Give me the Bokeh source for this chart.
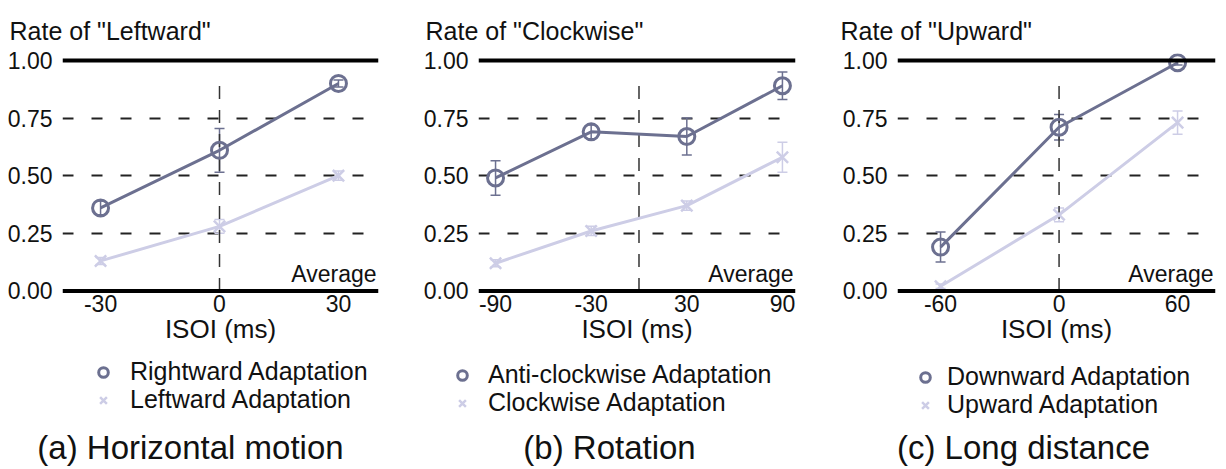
from bokeh.plotting import figure
from bokeh.layouts import row, column
from bokeh.models import (ColumnDataSource, Whisker, Span, Label, Legend, LegendItem,
                          FixedTicker, NumeralTickFormatter, TeeHead, Title)
from bokeh.embed import file_html
from bokeh.resources import INLINE

# ---- data ----
a_isoi = [-30, 0, 30]
a_rightward = [0.36, 0.61, 0.90]
a_rightward_err = [0.03, 0.095, 0.015]
a_leftward = [0.13, 0.28, 0.50]
a_leftward_err = [0.015, 0.03, 0.02]

b_isoi = [-90, -30, 30, 90]
b_anticw = [0.49, 0.69, 0.67, 0.89]
b_anticw_err = [0.075, 0.03, 0.08, 0.06]
b_cw = [0.12, 0.26, 0.37, 0.58]
b_cw_err = [0.015, 0.02, 0.02, 0.065]

c_isoi = [-60, 0, 60]
c_downward = [0.19, 0.71, 0.99]
c_downward_err = [0.065, 0.055, 0.01]
c_upward = [0.02, 0.33, 0.73]
c_upward_err = [0.01, 0.03, 0.05]

y_ticks = [0.0, 0.25, 0.5, 0.75, 1.0]

legend_names = [("Rightward Adaptation", "Leftward Adaptation"),
                ("Anti-clockwise Adaptation", "Clockwise Adaptation"),
                ("Downward Adaptation", "Upward Adaptation")]
captions = ["(a) Horizontal motion", "(b) Rotation", "(c) Long distance"]

DARK = "#6c7090"
LIGHT = "#cdcde6"
FONT = "Liberation Sans"
TXT = "#111111"
W = 1226
TOP_H = 350
BOT_H = 469 - TOP_H


def panel(width, bl, br, xr, xs, ys_d, err_d, ys_l, err_l, xticks, ylab, title_off):
    p = figure(width=width, height=TOP_H, x_range=xr, y_range=(-0.02, 1.03),
               output_backend="svg", toolbar_location=None,
               min_border_left=bl, min_border_right=br,
               min_border_top=53, min_border_bottom=TOP_H - 295)
    p.outline_line_color = None
    p.background_fill_color = "white"
    p.border_fill_color = "white"
    p.xgrid.grid_line_color = None
    p.ygrid.ticker = FixedTicker(ticks=[0.25, 0.5, 0.75])
    p.ygrid.grid_line_color = "#222222"
    p.ygrid.grid_line_width = 2
    p.ygrid.grid_line_dash = "11 18"

    p.yaxis.ticker = FixedTicker(ticks=y_ticks)
    p.yaxis.formatter = NumeralTickFormatter(format="0.00")
    p.xaxis.ticker = FixedTicker(ticks=xticks)
    p.xaxis.major_label_overrides = {t: str(t) for t in xticks}
    for ax in (p.xaxis, p.yaxis):
        ax.axis_line_color = None
        ax.major_tick_line_color = None
        ax.minor_tick_line_color = None
        ax.major_label_text_font = FONT
        ax.major_label_text_font_size = "23px"
        ax.major_label_text_color = TXT
    p.yaxis.major_label_standoff = 4
    p.xaxis.major_label_standoff = -7
    p.xaxis.axis_label = "ISOI (ms)"
    p.xaxis.axis_label_text_font = FONT
    p.xaxis.axis_label_text_font_size = "26px"
    p.xaxis.axis_label_text_font_style = "normal"
    p.xaxis.axis_label_text_color = TXT
    p.xaxis.axis_label_standoff = -1

    p.title = Title(text=ylab, align="left", offset=title_off,
                    text_font=FONT, text_font_size="25px",
                    text_font_style="normal", text_color=TXT, standoff=18)

    p.add_layout(Span(location=0, dimension="width", line_color="black", line_width=4))
    p.add_layout(Span(location=1, dimension="width", line_color="black", line_width=4))
    p.segment(x0=[0], y0=[0], x1=[0], y1=[0.93], line_color="#333333",
              line_width=1.5, line_dash="13 11")

    src_l = ColumnDataSource(dict(x=xs, y=ys_l,
                                  lo=[v - e for v, e in zip(ys_l, err_l)],
                                  hi=[v + e for v, e in zip(ys_l, err_l)]))
    p.line("x", "y", source=src_l, line_color=LIGHT, line_width=3)
    wl = Whisker(base="x", lower="lo", upper="hi", source=src_l, line_color=LIGHT,
                 line_width=1.5)
    wl.upper_head = TeeHead(size=10, line_color=LIGHT, line_width=1.5)
    wl.lower_head = TeeHead(size=10, line_color=LIGHT, line_width=1.5)
    p.add_layout(wl)
    p.scatter("x", "y", source=src_l, marker="x", size=16, line_color=LIGHT,
              line_width=2.5)

    src_d = ColumnDataSource(dict(x=xs, y=ys_d,
                                  lo=[v - e for v, e in zip(ys_d, err_d)],
                                  hi=[v + e for v, e in zip(ys_d, err_d)]))
    p.line("x", "y", source=src_d, line_color=DARK, line_width=3)
    wd = Whisker(base="x", lower="lo", upper="hi", source=src_d, line_color=DARK,
                 line_width=1.5)
    wd.upper_head = TeeHead(size=10, line_color=DARK, line_width=1.5)
    wd.lower_head = TeeHead(size=10, line_color=DARK, line_width=1.5)
    p.add_layout(wd)
    p.scatter("x", "y", source=src_d, marker="circle", size=16,
              line_color=DARK, line_width=3, fill_alpha=0)

    p.add_layout(Label(x=xr[1], y=0.075, x_offset=-2, text="Average",
                       text_font=FONT, text_font_size="23px", text_color=TXT,
                       text_align="right", text_baseline="alphabetic"))
    return p


pa = panel(409, 62, 31, (-39.6, 40.1), a_isoi, a_rightward, a_rightward_err,
           a_leftward, a_leftward_err, a_isoi, 'Rate of "Leftward"', -53)
pb = panel(409, 69, 23, (-100.7, 98.2), b_isoi, b_anticw, b_anticw_err,
           b_cw, b_cw_err, b_isoi, 'Rate of "Clockwise"', -53)
pc = panel(408, 79, 11, (-81.8, 79.2), c_isoi, c_downward, c_downward_err,
           c_upward, c_upward_err, c_isoi, 'Rate of "Upward"', -57)

# ---- legend + caption strip (one figure spanning all panels) ----
q = figure(width=W, height=BOT_H, x_range=(0, W), y_range=(0, BOT_H),
           output_backend="svg", toolbar_location=None,
           x_axis_type=None, y_axis_type=None,
           min_border_left=0, min_border_right=0, min_border_top=0,
           min_border_bottom=0)
q.outline_line_color = None
q.xgrid.grid_line_color = None
q.ygrid.grid_line_color = None

leg_left = [91, 450, 913]
leg_rows = [(83, 55), (80, 52), (78, 50)]
leg_standoff = [15, 14, 10]
cap_x = [190, 609, 1023]


def make_legend(label, renderer, x, y, standoff):
    leg = Legend(items=[LegendItem(label=label, renderers=[renderer])],
                 location=(x, y), orientation="vertical")
    leg.border_line_color = None
    leg.background_fill_alpha = 0
    leg.padding = 0
    leg.margin = 0
    leg.spacing = 0
    leg.glyph_width = 24
    leg.glyph_height = 24
    leg.label_height = 24
    leg.label_standoff = standoff
    leg.label_text_font = FONT
    leg.label_text_font_size = "25px"
    leg.label_text_color = TXT
    return leg


for i in range(3):
    off = ColumnDataSource(dict(x=[-500], y=[-500]))
    g_d = q.scatter("x", "y", source=off, marker="circle", size=10,
                    line_color=DARK, line_width=3, fill_alpha=0)
    g_l = q.scatter("x", "y", source=off, marker="x", size=10,
                    line_color=LIGHT, line_width=2.5)
    q.add_layout(make_legend(legend_names[i][0], g_d, leg_left[i], leg_rows[i][0],
                             leg_standoff[i]), "center")
    q.add_layout(make_legend(legend_names[i][1], g_l, leg_left[i], leg_rows[i][1],
                             leg_standoff[i]), "center")
    q.add_layout(Label(x=cap_x[i], y=BOT_H - 97, text=captions[i], text_font=FONT,
                       text_font_size="33px", text_color=TXT,
                       text_align="center", text_baseline="middle"))

layout = column(row(pa, pb, pc), q)
open("out.html", "w").write(file_html(layout, INLINE))
